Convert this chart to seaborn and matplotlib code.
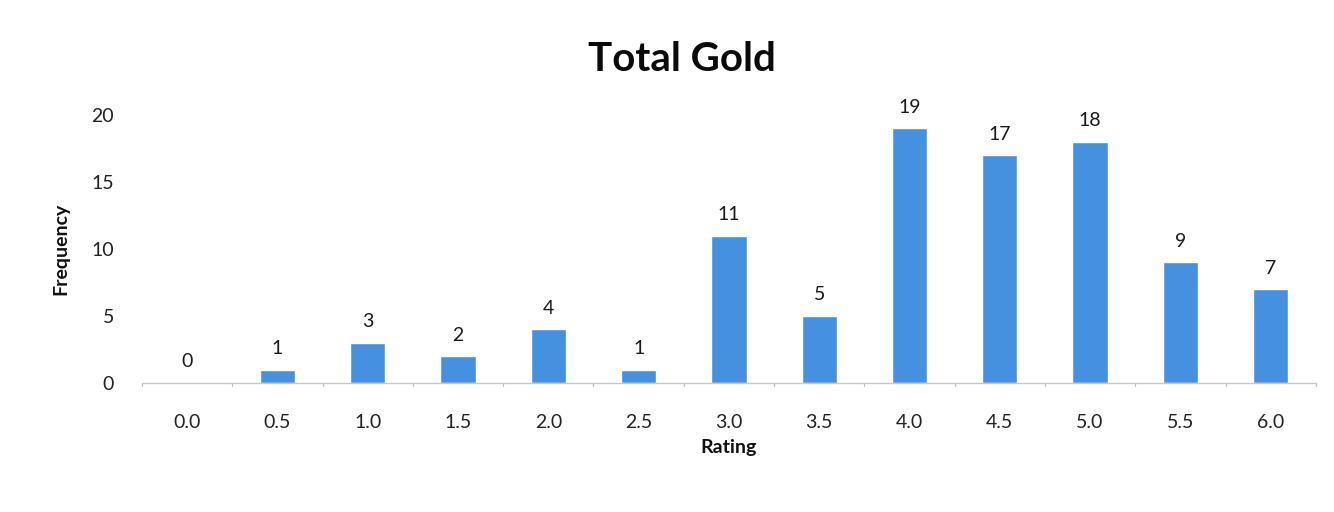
import matplotlib
matplotlib.use("Agg")
import matplotlib.pyplot as plt
import seaborn as sns
import pandas as pd

ratings = ["0.0", "0.5", "1.0", "1.5", "2.0", "2.5", "3.0",
           "3.5", "4.0", "4.5", "5.0", "5.5", "6.0"]
frequency = [0, 1, 3, 2, 4, 1, 11, 5, 19, 17, 18, 9, 7]
y_ticks = [0, 5, 10, 15, 20]

sns.set_theme(style="white")
plt.rcParams["font.family"] = ["Lato", "DejaVu Sans"]

df = pd.DataFrame({"Rating": ratings, "Frequency": frequency})

fig = plt.figure(figsize=(13.34, 5.12), dpi=100)
ax = fig.add_axes([0.1064, 0.252, 0.88, 0.5234])

sns.barplot(data=df, x="Rating", y="Frequency", color="#4690e0",
            saturation=1, width=0.39, ax=ax)

for i, v in enumerate(frequency):
    ax.annotate(str(v), (i, v), xytext=(0, 9), textcoords="offset points",
                ha="center", va="bottom", fontsize=14, color="#1a1a1a",
                annotation_clip=False)

ax.set_ylim(0, 20)
ax.set_xlim(-0.5, len(ratings) - 0.5)
ax.set_yticks(y_ticks)
ax.tick_params(axis="y", labelsize=14, colors="#222222", length=0, pad=20)
ax.tick_params(axis="x", labelsize=14, colors="#222222", length=0, pad=22)

# category boundary tick marks along the baseline
for b in range(len(ratings) + 1):
    ax.plot([b - 0.5, b - 0.5], [0, -0.25], color="#bbbbbb", lw=0.8,
            clip_on=False)

for side in ["top", "right", "left"]:
    ax.spines[side].set_visible(False)
ax.spines["bottom"].set_color("#c8c8c8")
ax.spines["bottom"].set_linewidth(1.0)

ax.set_xlabel("Rating", fontsize=14, fontweight="bold", color="#111111",
              labelpad=6)
ax.set_ylabel("Frequency", fontsize=14, fontweight="bold", color="#111111",
              labelpad=16)
fig.suptitle("Total Gold", fontsize=29, fontweight="bold", y=0.92,
             x=0.511, color="#0a0a0a")

fig.savefig("out.png", dpi=100, facecolor="white")
